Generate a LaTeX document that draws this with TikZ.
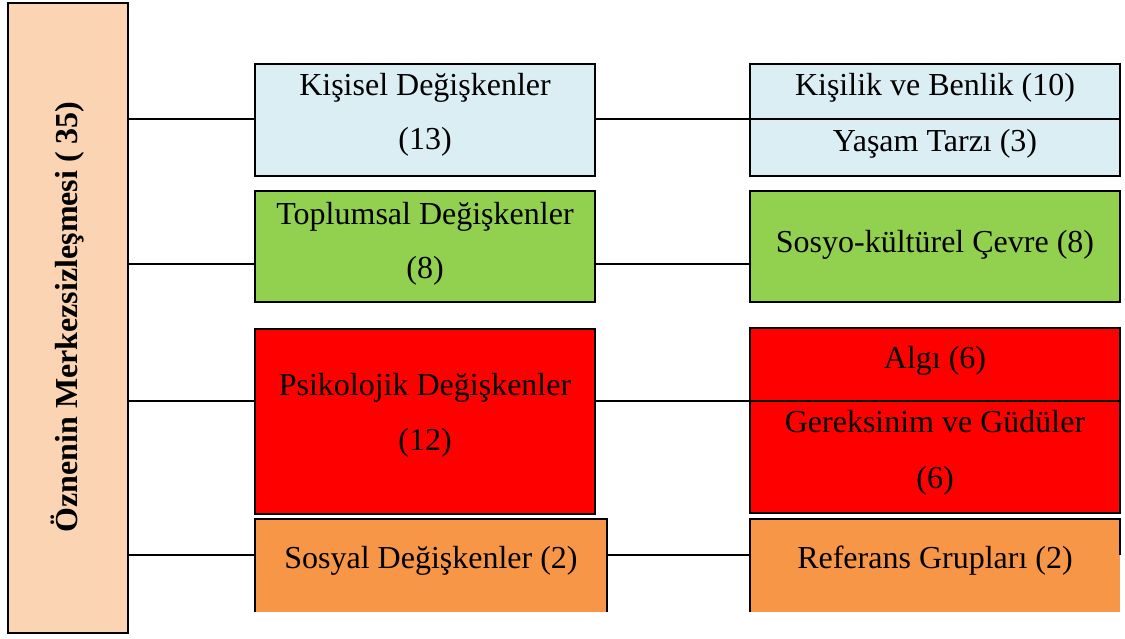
\documentclass[tikz,border=0pt]{standalone}
\usepackage{fontspec}
\setmainfont{Liberation Serif}
\usetikzlibrary{calc}
\definecolor{peach}{HTML}{FBD4B4}
\definecolor{lightblue}{HTML}{DBEEF4}
\definecolor{leafgreen}{HTML}{92D050}
\definecolor{brightred}{HTML}{FF0000}
\definecolor{tan}{HTML}{F79646}
\begin{document}
\begin{tikzpicture}[x=0.75pt,y=-0.75pt,
  box/.style={draw=black,line width=1.5pt,inner sep=0pt,outer sep=0pt},
  openbox/.style={inner sep=0pt,outer sep=0pt},
  lbl/.style={font=\fontsize{24}{40}\selectfont,inner sep=0pt,text height=0.75em,text depth=0.25em,anchor=center},
  link/.style={line width=1.2pt}]
\useasboundingbox (0,0) rectangle (1125,639);

% main vertical box
\node[box,fill=peach,minimum width=90pt,minimum height=472.5pt,anchor=north west] (root) at (8,3) {};
\node[font=\fontsize{24}{30}\selectfont\bfseries,rotate=90,inner sep=0pt] (roottxt) at (68,317) {Öznenin Merkezsizleşmesi ( 35)};

% first column
\node[box,fill=lightblue,minimum width=255pt,minimum height=84pt,anchor=north west] (kd) at (255,64) {};
\node[box,fill=leafgreen,minimum width=255pt,minimum height=83.25pt,anchor=north west] (tg) at (255,191) {};
\node[box,fill=brightred,minimum width=255pt,minimum height=138.75pt,anchor=north west] (pd) at (255,329) {};
\node[openbox,minimum width=264pt,minimum height=69.75pt,anchor=north west] (sd) at (255,519) {};
\fill[tan] (sd.south west) rectangle (sd.north east);
\draw[line width=1.5pt] (sd.south west) -- (sd.north west) -- (sd.north east) -- (sd.south east);

% second column
\node[box,fill=lightblue,minimum width=277.5pt,minimum height=41.25pt,anchor=north west] (kb) at (750,64) {};
\node[box,fill=lightblue,minimum width=277.5pt,minimum height=42.75pt,anchor=north west] (yt) at (750,119) {};
\node[box,fill=leafgreen,minimum width=277.5pt,minimum height=83.25pt,anchor=north west] (sk) at (750,191) {};
\node[box,fill=brightred,minimum width=277.5pt,minimum height=54.75pt,anchor=north west] (algi) at (750,328) {};
\node[box,fill=brightred,minimum width=277.5pt,minimum height=84pt,anchor=north west] (gg) at (750,401) {};
\node[openbox,minimum width=277.5pt,minimum height=69.75pt,anchor=north west] (rg) at (750,519) {};
\fill[tan] (rg.south west) rectangle (rg.north east);
\draw[line width=1.5pt] (rg.south west) -- (rg.north west) -- (rg.north east) -- ($(rg.north east)+(0,36)$);

% labels
\node[lbl] (kdt1) at (425,92) {Kişisel Değişkenler};
\node[lbl] (kdt2) at (425,146) {(13)};
\node[lbl] (tgt1) at (425,221) {Toplumsal Değişkenler};
\node[lbl] (tgt2) at (425,275) {(8)};
\node[lbl] (pdt1) at (425,392) {Psikolojik Değişkenler};
\node[lbl] (pdt2) at (425,447) {(12)};
\node[lbl] (sdt) at (431,565) {Sosyal Değişkenler (2)};
\node[lbl] (kbt) at (935,92) {Kişilik ve Benlik (10)};
\node[lbl] (ytt) at (935,148) {Yaşam Tarzı (3)};
\node[lbl] (skt) at (935,249) {Sosyo-kültürel Çevre (8)};
\node[lbl] (algit) at (935,365) {Algı (6)};
\node[lbl] (ggt1) at (935,429) {Gereksinim ve Güdüler};
\node[lbl] (ggt2) at (935,485) {(6)};
\node[lbl] (rgt) at (935,565) {Referans Grupları (2)};

% branch heights
\coordinate (r1) at (0,119);
\coordinate (r2) at (0,264);
\coordinate (r3) at (0,401);
\coordinate (r4) at (0,555);

% connectors from the main box
\draw[link] (root.east |- r1) -- (kd.west |- r1);
\draw[link] (root.east |- r2) -- (tg.west |- r2);
\draw[link] (root.east |- r3) -- (pd.west |- r3);
\draw[link] (root.east |- r4) -- (sd.west |- r4);

% connectors between the columns
\draw[link] (kd.east |- r1) -- (kb.south west);
\draw[link] (tg.east |- r2) -- (sk.west |- r2);
\draw[link] (pd.east |- r3) -- (algi.south west);
\draw[link] (sd.east |- r4) -- (rg.west |- r4);
\end{tikzpicture}
\end{document}
